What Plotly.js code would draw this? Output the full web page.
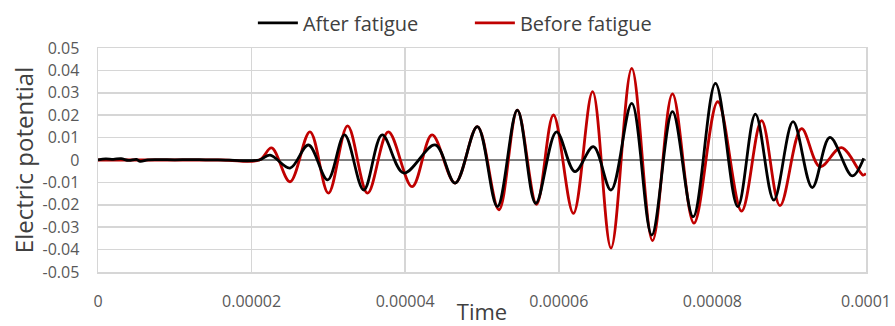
<!DOCTYPE html>
<html>
<head>
<meta charset="utf-8">
<script src="https://cdn.plot.ly/plotly-3.0.1.min.js"></script>
<style>
  html, body { margin: 0; padding: 0; background: #fff; }
  #chart { width: 895px; height: 326px; }
</style>
</head>
<body>
<div id="chart"></div>
<script>
// ---- Data ----
const afterTime = [
  0, 0.0000010, 0.0000020, 0.0000030, 0.0000040, 0.0000050, 0.0000055, 0.0000065,
  0.0000080, 0.0000100, 0.0000120, 0.0000140, 0.0000156, 0.0000210,
  0.0000224, 0.0000250, 0.0000274, 0.0000299, 0.0000321, 0.0000346, 0.0000370,
  0.0000398, 0.0000439, 0.0000465, 0.0000494, 0.0000520, 0.0000546, 0.0000570,
  0.0000597, 0.0000621, 0.0000645, 0.0000668, 0.0000695, 0.0000721, 0.0000748,
  0.0000775, 0.0000804, 0.0000833, 0.0000856, 0.0000880, 0.0000905, 0.0000930,
  0.0000953, 0.0000982, 0.0000997
];
const afterValue = [
  0, 0.0005, 0.0003, 0.0006, -0.0002, 0.0003, -0.0006, 0.0001,
  0.0002, 0.0001, 0.0002, 0.0001, 0.0001, 0,
  0.0022, -0.0036, 0.0067, -0.0089, 0.0112, -0.0134, 0.0112,
  -0.0058, 0.0067, -0.0103, 0.0149, -0.0208, 0.0223, -0.0193,
  0.0126, -0.0052, 0.0060, -0.0134, 0.0253, -0.0335, 0.0216,
  -0.0253, 0.0342, -0.0208, 0.0205, -0.0179, 0.0171, -0.0123,
  0.0101, -0.0071, 0.0008
];

const beforeTime = [
  0, 0.0000160, 0.0000210,
  0.0000226, 0.0000250, 0.0000276, 0.0000300, 0.0000325, 0.0000351, 0.0000378,
  0.0000409, 0.0000435, 0.0000465, 0.0000494, 0.0000522, 0.0000546, 0.0000571,
  0.0000593, 0.0000619, 0.0000644, 0.0000668, 0.0000695, 0.0000722, 0.0000748,
  0.0000776, 0.0000807, 0.0000838, 0.0000864, 0.0000888, 0.0000916, 0.0000940,
  0.0000968, 0.0000996, 0.0001000
];
const beforeValue = [
  0, 0, 0,
  0.0054, -0.0097, 0.0126, -0.0148, 0.0152, -0.0148, 0.0126,
  -0.0119, 0.0112, -0.0103, 0.0149, -0.0222, 0.0223, -0.0198,
  0.0201, -0.0238, 0.0305, -0.0393, 0.0409, -0.0360, 0.0295,
  -0.0282, 0.0260, -0.0228, 0.0176, -0.0204, 0.0140, -0.0030,
  0.0055, -0.0067, -0.0060
];

const xTickVals = [0, 0.00002, 0.00004, 0.00006, 0.00008, 0.0001];
const xTickText = ["0", "0.00002", "0.00004", "0.00006", "0.00008", "0.0001"];
const yTickVals = [0.05, 0.04, 0.03, 0.02, 0.01, 0, -0.01, -0.02, -0.03, -0.04, -0.05];
const yTickText = ["0.05", "0.04", "0.03", "0.02", "0.01", "0", "-0.01", "-0.02", "-0.03", "-0.04", "-0.05"];

const seriesNames = ["After fatigue", "Before fatigue"];

// ---- Chart ----
const tickFont = { family: "Open Sans, sans-serif", size: 16, color: "#595959" };
const xTitleFont = { family: "Open Sans, sans-serif", size: 22, color: "#404040" };
const yTitleFont = { family: "Open Sans, sans-serif", size: 24, color: "#404040" };

const traces = [
  {
    x: beforeTime, y: beforeValue, name: seriesNames[1],
    type: "scatter", mode: "lines",
    line: { color: "#c00000", width: 2.8, shape: "spline", smoothing: 1 }
  },
  {
    x: afterTime, y: afterValue, name: seriesNames[0],
    type: "scatter", mode: "lines",
    line: { color: "#000000", width: 2.8, shape: "spline", smoothing: 1 }
  }
];

const layout = {
  width: 895, height: 326,
  margin: { l: 98, r: 29, t: 48, b: 54 },
  paper_bgcolor: "#ffffff", plot_bgcolor: "#ffffff",
  showlegend: true,
  legend: {
    orientation: "h", traceorder: "reversed",
    xref: "container", yref: "container",
    x: 0.525, xanchor: "center", y: 0.93, yanchor: "middle",
    font: { family: "Open Sans, sans-serif", size: 20, color: "#404040" },
    itemwidth: 40, tracegroupgap: 0, entrywidth: 162
  },
  xaxis: {
    range: [0, 0.0001],
    tickvals: xTickVals, ticktext: xTickText,
    tickfont: tickFont, ticks: "", ticklabelstandoff: 14,
    showgrid: true, gridcolor: "#d6d6d6", gridwidth: 1.5,
    zeroline: false,
    showline: true, mirror: true, linecolor: "#d6d6d6", linewidth: 1.5,
    title: { text: "Time", font: xTitleFont, standoff: 9 }
  },
  yaxis: {
    range: [-0.05, 0.05],
    tickvals: yTickVals, ticktext: yTickText,
    tickfont: tickFont, ticks: "", ticklabelstandoff: 14,
    showgrid: true, gridcolor: "#d6d6d6", gridwidth: 1.5,
    zeroline: true, zerolinecolor: "#808080", zerolinewidth: 2,
    showline: true, mirror: true, linecolor: "#d6d6d6", linewidth: 1.5,
    title: { text: "Electric potential", font: yTitleFont, standoff: 2 }
  }
};

Plotly.newPlot("chart", traces, layout, { displayModeBar: false, staticPlot: true });
</script>
</body>
</html>
